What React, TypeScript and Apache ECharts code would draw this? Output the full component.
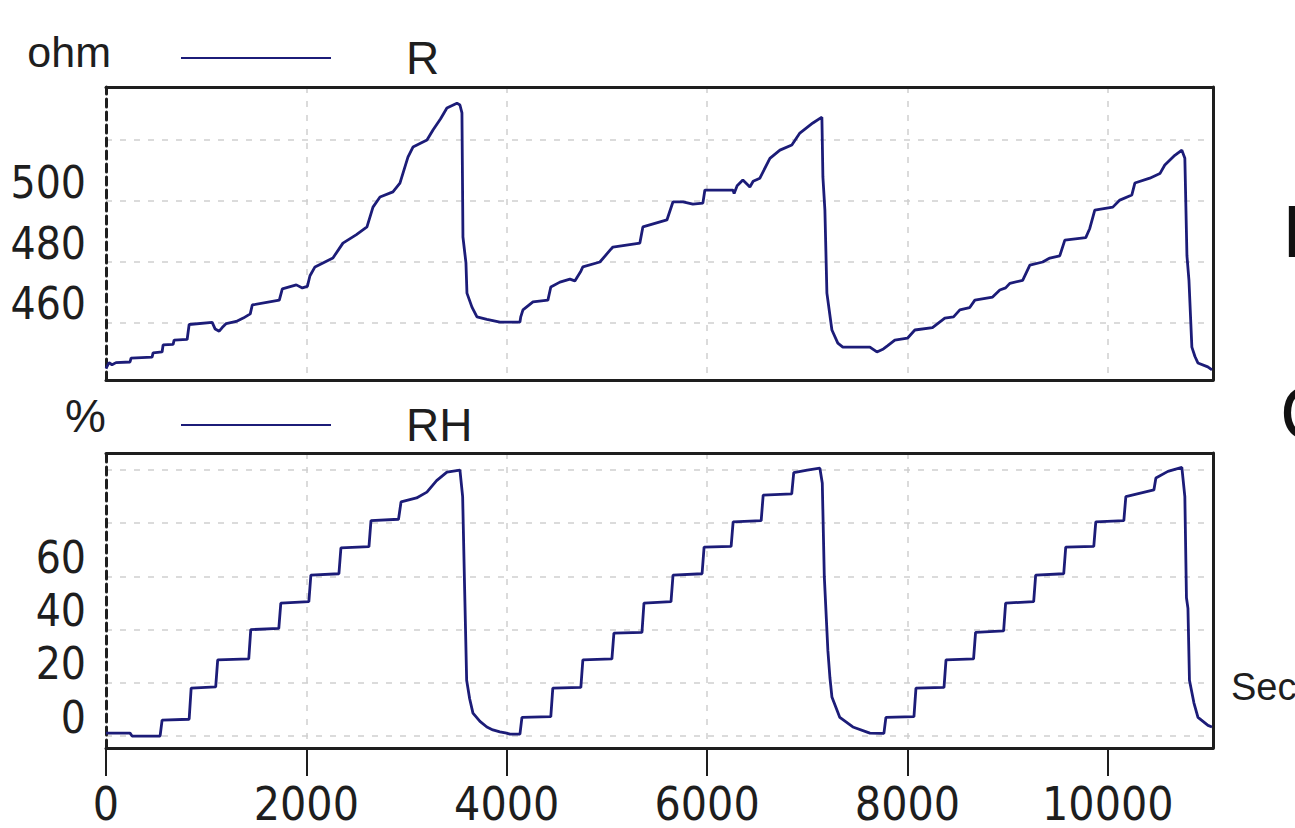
import React, { useEffect, useRef } from "react";
import * as echarts from "echarts";

// ---- data (seconds, value) ----
const xTicks = [0, 2000, 4000, 6000, 8000, 10000];
const rTicks = [460, 480, 500];
const rhTicks = [0, 20, 40, 60];

const rCycle1 = [
  [0, 445.0], [30, 447.0], [60, 446.3], [100, 447.0], [240, 447.2], [250, 448.5], [460, 448.8], [470, 450.2],
  [560, 450.5], [570, 452.8], [670, 453.0], [680, 454.4], [810, 454.6], [830, 459.5], [1060, 460.2], [1090, 458.0],
  [1130, 457.3], [1160, 458.5], [1200, 459.8], [1300, 460.5], [1370, 461.6], [1440, 463.0], [1460, 465.9],
  [1730, 467.5], [1760, 471.2], [1900, 472.5], [1960, 471.5], [2010, 472.0], [2036, 475.5], [2086, 478.4],
  [2265, 481.3], [2365, 486.2], [2500, 489.0], [2605, 491.5], [2665, 498.0], [2735, 501.3], [2864, 503.0],
  [2934, 505.9], [3014, 514.4], [3064, 517.7], [3204, 520.0], [3264, 523.3], [3340, 527.0], [3403, 530.5],
  [3503, 532.1], [3533, 531.5], [3553, 528.9], [3563, 488.2], [3593, 479.7], [3603, 469.8], [3653, 465.2],
  [3703, 462.0], [3802, 461.2], [3932, 460.3], [4132, 460.3],
];
const rCycle2 = [
  [4140, 462.0], [4162, 464.3], [4262, 466.9], [4411, 467.5], [4440, 471.8], [4531, 473.4], [4631, 474.4],
  [4680, 473.8], [4740, 477.0], [4760, 478.4], [4930, 480.0], [5040, 484.2], [5060, 484.9], [5329, 486.2],
  [5359, 491.5], [5599, 493.8], [5659, 499.7], [5760, 499.7], [5858, 499.0], [5958, 499.3], [5978, 503.6],
  [6258, 503.6], [6270, 502.5], [6300, 505.0], [6357, 506.9], [6400, 505.5], [6427, 504.6], [6460, 506.5],
  [6527, 507.5], [6627, 514.0], [6727, 516.7], [6846, 518.4], [6926, 522.3], [7056, 525.6], [7146, 527.5],
  [7156, 507.9], [7176, 497.0], [7196, 469.8], [7246, 457.7], [7305, 453.4], [7355, 452.1], [7625, 452.1],
  [7695, 450.5],
];
const rCycle3 = [
  [7760, 451.5], [7800, 452.5], [7874, 454.4], [8000, 455.0], [8074, 457.7], [8250, 458.5], [8373, 461.6],
  [8460, 462.0], [8523, 464.3], [8620, 465.0], [8673, 467.5], [8850, 468.5], [8922, 470.8], [8980, 471.5],
  [9022, 473.0], [9150, 474.0], [9222, 479.0], [9350, 480.0], [9421, 481.3], [9520, 482.0], [9571, 487.2],
  [9780, 488.0], [9820, 491.0], [9870, 497.0], [10050, 498.0], [10120, 500.3], [10240, 502.0], [10270, 505.9],
  [10419, 507.5], [10520, 509.0], [10569, 511.8], [10669, 515.0], [10739, 516.7], [10769, 514.0],
  [10790, 482.0], [10810, 474.0], [10839, 452.1], [10870, 449.0], [10899, 446.9], [10998, 445.6], [11040, 444.6],
];

const rhCycle1 = [
  [0, 1.1], [240, 1.1], [260, 0], [540, 0], [560, 6], [830, 6.3], [850, 18], [1095, 18.5], [1115, 28.6],
  [1425, 29], [1445, 40], [1725, 40.5], [1745, 50], [2025, 50.5], [2045, 60.5], [2325, 61], [2345, 70.7],
  [2625, 71.2], [2645, 81], [2920, 81.5], [2945, 88], [3100, 89.5], [3203, 91.7], [3300, 96], [3403, 99.2],
  [3533, 100], [3560, 90], [3580, 55], [3600, 21], [3630, 14], [3663, 8.6], [3733, 5.5], [3802, 3.4],
  [3862, 2.3], [3932, 1.6], [4000, 1.1], [4032, 0.7], [4132, 0.7],
];
const rhCycle2 = [
  [4152, 7], [4440, 7.3], [4460, 18], [4740, 18.3], [4760, 28.6], [5050, 29], [5070, 38.7], [5350, 39],
  [5370, 50], [5640, 50.5], [5660, 60.5], [5950, 61], [5970, 71], [6240, 71.3], [6260, 80.5], [6540, 81],
  [6560, 90.6], [6845, 91], [6865, 99], [7000, 100], [7126, 100.7], [7150, 95], [7170, 60], [7206, 32],
  [7226, 22], [7246, 14.7], [7325, 7], [7455, 3.4], [7625, 1.1], [7725, 1.0],
];
const rhCycle3 = [
  [7765, 1.0], [7785, 7], [8065, 7.3], [8085, 18], [8365, 18.3], [8385, 28.6], [8660, 29], [8680, 39],
  [8960, 39.5], [8980, 50], [9260, 50.5], [9280, 60.5], [9560, 61], [9580, 71], [9860, 71.3], [9880, 80.5],
  [10160, 81], [10180, 90], [10460, 92.5], [10480, 97], [10600, 99.5], [10739, 101], [10769, 90],
  [10785, 52], [10800, 48], [10815, 21], [10860, 12.4], [10900, 7], [11000, 4], [11040, 3.4],
];

const X_MIN = 0;
const X_MAX = 11050;
const R_MIN = 441.3;
const R_MAX = 537.4;
const RH_MIN = -4.5;
const RH_MAX = 106.4;

export default function App() {
  const ref = useRef<HTMLDivElement>(null);

  useEffect(() => {
    document.body.style.margin = "0";
    const chart = echarts.init(ref.current as HTMLDivElement, null, { renderer: "svg" });

    const FONT = "'Liberation Sans', Arial, sans-serif";
    const NARROW = "'Liberation Sans Narrow', 'Arial Narrow', 'DejaVu Sans Condensed', 'Liberation Sans', sans-serif";
    const DARK = "#1e1e1e";
    const NAVY = "#1c1c78";

    const split = {
      show: true,
      showMinLine: false,
      showMaxLine: false,
      lineStyle: { color: "#cfcfcf", type: [6, 8], width: 1.5 },
    };
    const border = { show: true, onZero: false, lineStyle: { color: DARK, width: 3 } };
    const dashedBorder = { show: true, onZero: false, lineStyle: { color: DARK, width: 3, type: [8, 5] } };
    const off = { show: false };

    const xBase = { type: "value", min: X_MIN, max: X_MAX, interval: 2000 };

    const yLabel = (ticks: number[]) => ({
      show: true,
      customValues: ticks,
      formatter: (v: number) => (ticks.indexOf(v) >= 0 ? String(v) : ""),
      margin: 20,
      fontSize: 44,
      fontFamily: NARROW,
      color: DARK,
      verticalAlign: "bottom",
      lineHeight: 38,
    });

    const option: any = {
      animation: false,
      backgroundColor: "#ffffff",
      grid: [
        { left: 106, top: 87, width: 1107, height: 293 },
        { left: 106, top: 453, width: 1107, height: 295 },
      ],
      legend: [
        {
          data: ["R"],
          left: 180,
          top: 35,
          padding: 0,
          itemWidth: 150,
          itemHeight: 20,
          selectedMode: false,
          itemStyle: { opacity: 0 },
          lineStyle: { width: 2, color: NAVY },
          textStyle: { fontFamily: FONT, fontSize: 46, color: DARK, padding: [0, 0, 0, 70] },
        },
        {
          data: ["RH"],
          left: 180,
          top: 402,
          padding: 0,
          itemWidth: 150,
          itemHeight: 20,
          selectedMode: false,
          itemStyle: { opacity: 0 },
          lineStyle: { width: 2, color: NAVY },
          textStyle: { fontFamily: FONT, fontSize: 46, color: DARK, padding: [0, 0, 0, 70] },
        },
      ],
      xAxis: [
        {
          ...xBase, gridIndex: 0, position: "bottom", z: 1,
          axisLine: border, axisTick: off, axisLabel: off, splitLine: split,
        },
        {
          ...xBase, gridIndex: 0, position: "top", z: 1,
          axisLine: border, axisTick: off, axisLabel: off, splitLine: off,
        },
        {
          ...xBase, gridIndex: 1, position: "bottom", z: 1,
          axisLine: border,
          axisTick: { show: true, length: 28, customValues: xTicks, lineStyle: { color: DARK, width: 2 } },
          axisLabel: {
            show: true,
            customValues: xTicks,
            formatter: (v: number) => (xTicks.indexOf(v) >= 0 ? String(v) : ""),
            margin: 33,
            fontSize: 46,
            fontFamily: NARROW,
            color: DARK,
          },
          splitLine: split,
        },
        {
          ...xBase, gridIndex: 1, position: "top", z: 1,
          axisLine: border, axisTick: off, axisLabel: off, splitLine: off,
        },
      ],
      yAxis: [
        {
          type: "value", gridIndex: 0, position: "left", min: R_MIN, max: R_MAX,
          minInterval: 20, maxInterval: 20, z: 0,
          name: "ohm", nameLocation: "end", nameGap: 14,
          nameTextStyle: { fontFamily: FONT, fontSize: 43, color: DARK, align: "right", verticalAlign: "bottom", padding: [0, -5, 0, 0] },
          axisLine: dashedBorder, axisTick: off, axisLabel: yLabel(rTicks), splitLine: split,
        },
        {
          type: "value", gridIndex: 0, position: "right", min: R_MIN, max: R_MAX, z: 1,
          axisLine: border, axisTick: off, axisLabel: off, splitLine: off,
        },
        {
          type: "value", gridIndex: 1, position: "left", min: RH_MIN, max: RH_MAX,
          minInterval: 20, maxInterval: 20, z: 0,
          name: "%", nameLocation: "end", nameGap: 14,
          nameTextStyle: { fontFamily: FONT, fontSize: 46, color: DARK, align: "right", verticalAlign: "bottom" },
          axisLine: dashedBorder, axisTick: off, axisLabel: yLabel(rhTicks), splitLine: split,
        },
        {
          type: "value", gridIndex: 1, position: "right", min: RH_MIN, max: RH_MAX, z: 1,
          axisLine: border, axisTick: off, axisLabel: off, splitLine: off,
        },
      ],
      series: [
        {
          name: "R", type: "line", xAxisIndex: 0, yAxisIndex: 0, symbol: "none",
          data: [...rCycle1, ...rCycle2, ...rCycle3],
          lineStyle: { color: NAVY, width: 2.8 }, itemStyle: { color: NAVY },
        },
        {
          name: "RH", type: "line", xAxisIndex: 2, yAxisIndex: 2, symbol: "none",
          data: [...rhCycle1, ...rhCycle2, ...rhCycle3],
          lineStyle: { color: NAVY, width: 2.8 }, itemStyle: { color: NAVY },
        },
      ],
      graphic: [
        { type: "text", x: 1231, y: 687, style: { text: "Sec", fontFamily: FONT, fontSize: 38, fill: DARK, verticalAlign: "middle" } },
        { type: "text", x: 1282, y: 231, style: { text: "I", fontFamily: FONT, fontSize: 74, fill: "#111", verticalAlign: "middle" } },
        { type: "text", x: 1280, y: 412, style: { text: "C", fontFamily: FONT, fontSize: 76, fill: "#111", verticalAlign: "middle" } },
      ],
    };

    chart.setOption(option);
    return () => chart.dispose();
  }, []);

  return <div ref={ref} style={{ position: "absolute", left: 0, top: 0, width: 1295, height: 828 }} />;
}
